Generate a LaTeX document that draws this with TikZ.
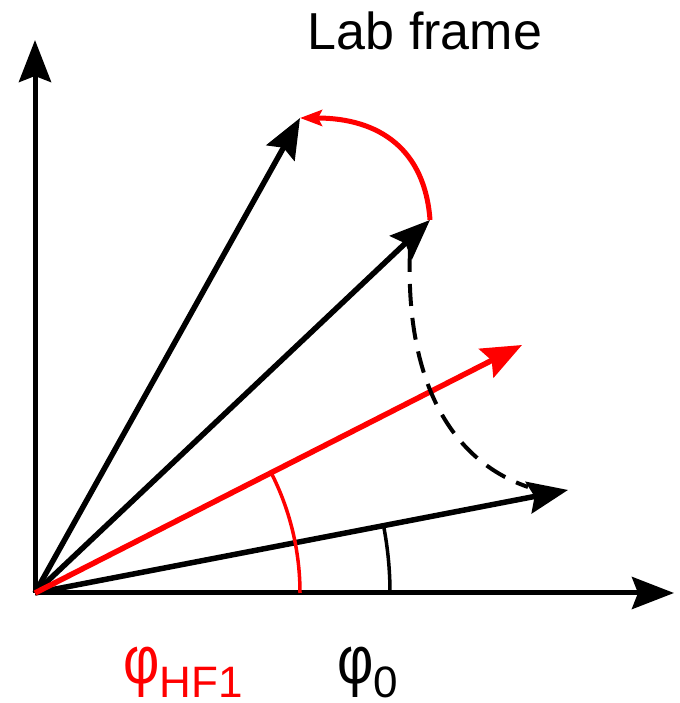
\documentclass[tikz,border=0pt]{standalone}
\usepackage{fontspec}
\setmainfont{Liberation Sans}
\usetikzlibrary{arrows.meta}
\tikzset{
  vec/.style={line width=5.5pt,-{Stealth[length=40pt,width=32pt,inset=6pt]}},
  axisline/.style={line width=5pt,-{Stealth[length=42pt,width=32pt,inset=6pt]}},
  anglearc/.style={line width=3.5pt},
  rotarc/.style={red,line width=5pt,-{Stealth[length=22pt,width=16pt,inset=4pt]}},
  dasharc/.style={line width=4pt,dash pattern=on 22pt off 12pt},
  lbl/.style={inner sep=0pt,anchor=base west}
}
\newcommand{\bigphi}{\scalebox{1.12}[1.35]{\fontsize{50}{50}\selectfont φ}}
\newcommand{\subtxt}[1]{\raisebox{-14pt}{\fontsize{44}{44}\selectfont #1}}
\begin{document}
\begin{tikzpicture}[x=1pt,y=1pt]
\useasboundingbox (0,0) rectangle (679,703);
\coordinate (O) at (35,110);
\coordinate (ytip) at (35,663);
\coordinate (xtip) at (674,110);
\coordinate (v1) at (568,213);
\coordinate (vr) at (522,358);
\coordinate (v2) at (430,483);
\coordinate (v3) at (300,585);
\coordinate (ds) at (410,453);
% axes
\draw[axisline] (O) -- (ytip);
\draw[axisline] (O) -- (xtip);
% vectors
\draw[vec] (O) -- (v1);
\draw[vec] (O) -- (v2);
\draw[vec] (O) -- (v3);
\draw[vec,red] (O) -- (vr);
% angle arcs
\draw[anglearc,red] ([shift={(0:265)}]O) arc[start angle=0,end angle=27,radius=265];
\draw[anglearc] ([shift={(0:355)}]O) arc[start angle=0,end angle=10.9,radius=355];
% rotation arc
\draw[rotarc] (v2) .. controls (425,553) and (380,585) .. (v3);
% dashed arc
\draw[dasharc] (ds) .. controls (405,323) and (450,243) .. (528,216);
% labels
\node[inner sep=0pt,anchor=base] (title) at (425,653) {\fontsize{52}{60}\selectfont Lab frame};
\node[lbl,text=red] (phihf) at (123,19) {\bigphi\subtxt{HF1}};
\node[lbl] (phi0) at (337,19) {\bigphi\subtxt{0}};
\end{tikzpicture}
\end{document}
